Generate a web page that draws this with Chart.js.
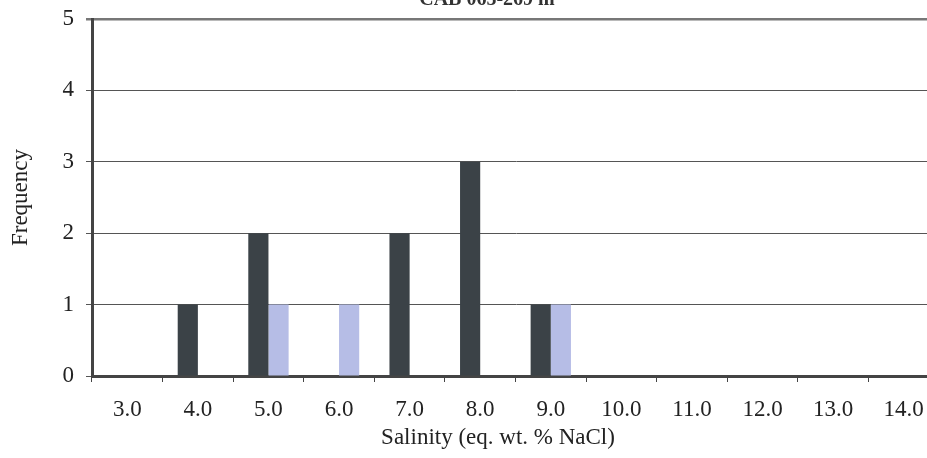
<!DOCTYPE html>
<html>
<head>
<meta charset="utf-8">
<script src="https://cdn.jsdelivr.net/npm/chart.js@4/dist/chart.umd.min.js"></script>
<style>
html,body{margin:0;padding:0;background:#fff;overflow:hidden;width:927px;height:458px;}
#wrap{width:927px;height:458px;position:relative;overflow:hidden;}
</style>
</head>
<body>
<div id="wrap"><canvas id="c" width="939" height="458"></canvas></div>
<script>
const chartTitle = "CAB 065-269 m";
const categories = ["3.0","4.0","5.0","6.0","7.0","8.0","9.0","10.0","11.0","12.0","13.0","14.0"];
const seriesDark = [0,1,2,0,2,3,1,0,0,0,0,0];
const seriesLight = [0,0,1,1,0,0,1,0,0,0,0,0];
const yTicks = [0,1,2,3,4,5];
const xAxisTitle = "Salinity (eq. wt. % NaCl)";
const yAxisTitle = "Frequency";

const serif = "'Liberation Serif','Times New Roman',serif";

const textPlugin = {
  id: 'extraText',
  afterDraw(chart) {
    const ctx = chart.ctx;
    ctx.save();
    ctx.font = "bold 20px " + serif;
    ctx.fillStyle = "#333";
    ctx.textAlign = "center";
    ctx.textBaseline = "alphabetic";
    ctx.fillText(chartTitle, 487, 5);
    ctx.font = "23px " + serif;
    ctx.fillStyle = "#222";
    ctx.fillText(xAxisTitle, 498, 444);
    ctx.restore();
  }
};

new Chart(document.getElementById('c'), {
  type: 'bar',
  data: {
    labels: categories,
    datasets: [
      {data: seriesDark, backgroundColor: '#3b4247', borderWidth: 0},
      {data: seriesLight, backgroundColor: '#b6bde6', borderWidth: 0}
    ]
  },
  options: {
    responsive: false,
    animation: false,
    layout: {padding: {top: 19, right: 0, left: 0, bottom: 0}},
    plugins: {legend: {display: false}, tooltip: {enabled: false}},
    datasets: {bar: {categoryPercentage: 0.5714, barPercentage: 1.0}},
    scales: {
      x: {
        offset: true,
        grid: {offset: true, drawOnChartArea: false, drawTicks: true, tickLength: 6, color: '#444', lineWidth: 1},
        border: {display: true, color: '#444', width: 3},
        ticks: {color: '#222', font: {family: serif, size: 23}, padding: 14, maxRotation: 0, autoSkip: false},
        title: {display: false},
        afterFit(scale) { scale.height = 82; scale.paddingLeft = 0; scale.paddingRight = 0; }
      },
      y: {
        min: 0, max: 5,
        afterBuildTicks(scale) { scale.ticks = yTicks.map(v => ({value: v})); },
        grid: {
          drawTicks: true, tickLength: 6,
          color: (c) => c.tick && c.tick.value === 5 ? '#777' : '#555',
          lineWidth: (c) => c.tick && c.tick.value === 5 ? 2.5 : 1
        },
        border: {display: true, color: '#444', width: 3},
        ticks: {color: '#222', font: {family: serif, size: 23}, padding: 12},
        title: {display: true, text: yAxisTitle, color: '#222', font: {family: serif, size: 23}, padding: {top: 7, bottom: 0}},
        afterFit(scale) { scale.width = 92; scale.paddingTop = 0; scale.paddingBottom = 0; }
      }
    }
  },
  plugins: [textPlugin]
});
</script>
</body>
</html>
